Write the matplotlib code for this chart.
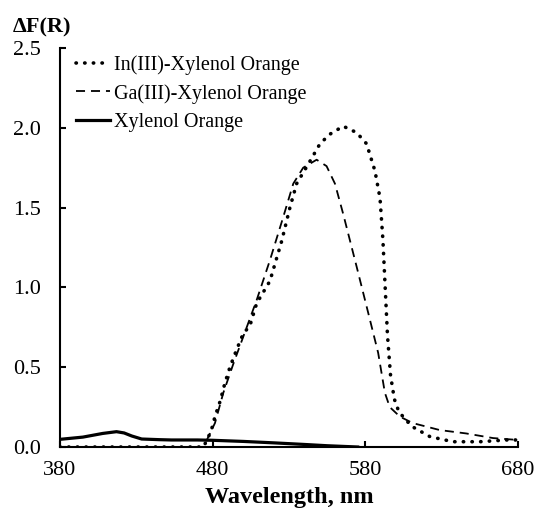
import matplotlib
matplotlib.use("Agg")
import matplotlib.pyplot as plt
import numpy as np

plt.rcParams['font.family'] = ['Liberation Serif', 'DejaVu Serif']

# Data
wl_in = [380, 420, 460, 474, 479, 481.5, 485, 488, 491.3, 495.7, 500, 504.4, 508.8, 517.5,
         525.2, 530.6, 535, 543.7, 550.3, 556.8, 565.5, 574.3, 580.8, 586.3, 589.6, 591.5,
         593, 594.5, 596.5, 599, 602, 610.3, 622.3, 637.4, 655, 672.5, 680]
in_xo = [0, 0, 0, 0.0, 0.10, 0.19, 0.29, 0.40, 0.50, 0.61, 0.71, 0.76, 0.90, 1.04,
         1.29, 1.50, 1.65, 1.79, 1.90, 1.96, 2.01, 1.97, 1.90, 1.73, 1.56, 1.30,
         1.00, 0.70, 0.45, 0.30, 0.22, 0.13, 0.065, 0.033, 0.033, 0.044, 0.044]

wl_ga = [380, 420, 460, 474, 481.5, 487, 493.5, 500, 508.8, 517.5, 526.2, 532.8, 539.3,
         548.1, 554.6, 560.1, 565.5, 574.3, 581.9, 588.4, 592.8, 596, 602.7, 611, 628.8,
         646, 663.6, 680]
ga_xo = [0, 0, 0, 0.0, 0.15, 0.34, 0.52, 0.69, 0.92, 1.17, 1.44, 1.65, 1.75,
         1.80, 1.76, 1.65, 1.46, 1.13, 0.84, 0.59, 0.34, 0.25, 0.19, 0.15, 0.106,
         0.085, 0.056, 0.044]

wl_xo = [380, 395, 408, 417, 422, 427, 433.5, 445, 453, 470, 480, 500, 520, 540, 555, 570, 575]
xo = [0.048, 0.062, 0.085, 0.096, 0.088, 0.069, 0.05, 0.046, 0.044, 0.044, 0.042, 0.035,
      0.026, 0.016, 0.008, 0.002, 0.0]

xticks = [380, 480, 580, 680]
yticks = [0.0, 0.5, 1.0, 1.5, 2.0, 2.5]

fig = plt.figure(figsize=(5.37, 5.17), dpi=100)
ax = fig.add_axes([60/537, 1-447/517, (518-60)/537, (447-48)/517])

ax.plot(wl_in, in_xo, color='black', lw=2.6, linestyle=(0, (0.1, 2.3)),
        dash_capstyle='round', solid_joinstyle='round', label='In(III)-Xylenol Orange')
ax.plot(wl_ga, ga_xo, color='black', lw=1.3, linestyle=(0, (5.0, 3.3)),
        label='Ga(III)-Xylenol Orange')
ax.plot(wl_xo, xo, color='black', lw=2.3, label='Xylenol Orange')

ax.set_xlim(380, 680)
ax.set_ylim(0, 2.5)
ax.set_xticks(xticks)
ax.set_yticks(yticks)
ax.set_xticklabels([str(t) for t in xticks])
ax.set_yticklabels([f'{t:.1f}' for t in yticks])
ax.spines['top'].set_visible(False)
ax.spines['right'].set_visible(False)
for s in ['left', 'bottom']:
    ax.spines[s].set_linewidth(1.5)
ax.tick_params(axis='both', direction='in', length=4, width=1.5, labelsize=16)
ax.tick_params(axis='y', pad=14)
ax.tick_params(axis='x', pad=10)

leg = ax.legend(loc='upper left', bbox_to_anchor=((76-60)/458, (447-55)/399), frameon=False,
                fontsize=14.5, handlelength=1.7, handletextpad=0.2, labelspacing=0.45,
                borderaxespad=0, borderpad=0)

fig.text(13/537, 1-27/517, 'ΔF(R)', fontsize=16, fontweight='bold', ha='left', va='center')
fig.text(289/537, 1-487/517, 'Wavelength, nm', fontsize=17.5, fontweight='bold', ha='center', va='top')

fig.savefig('out.png', dpi=100)
